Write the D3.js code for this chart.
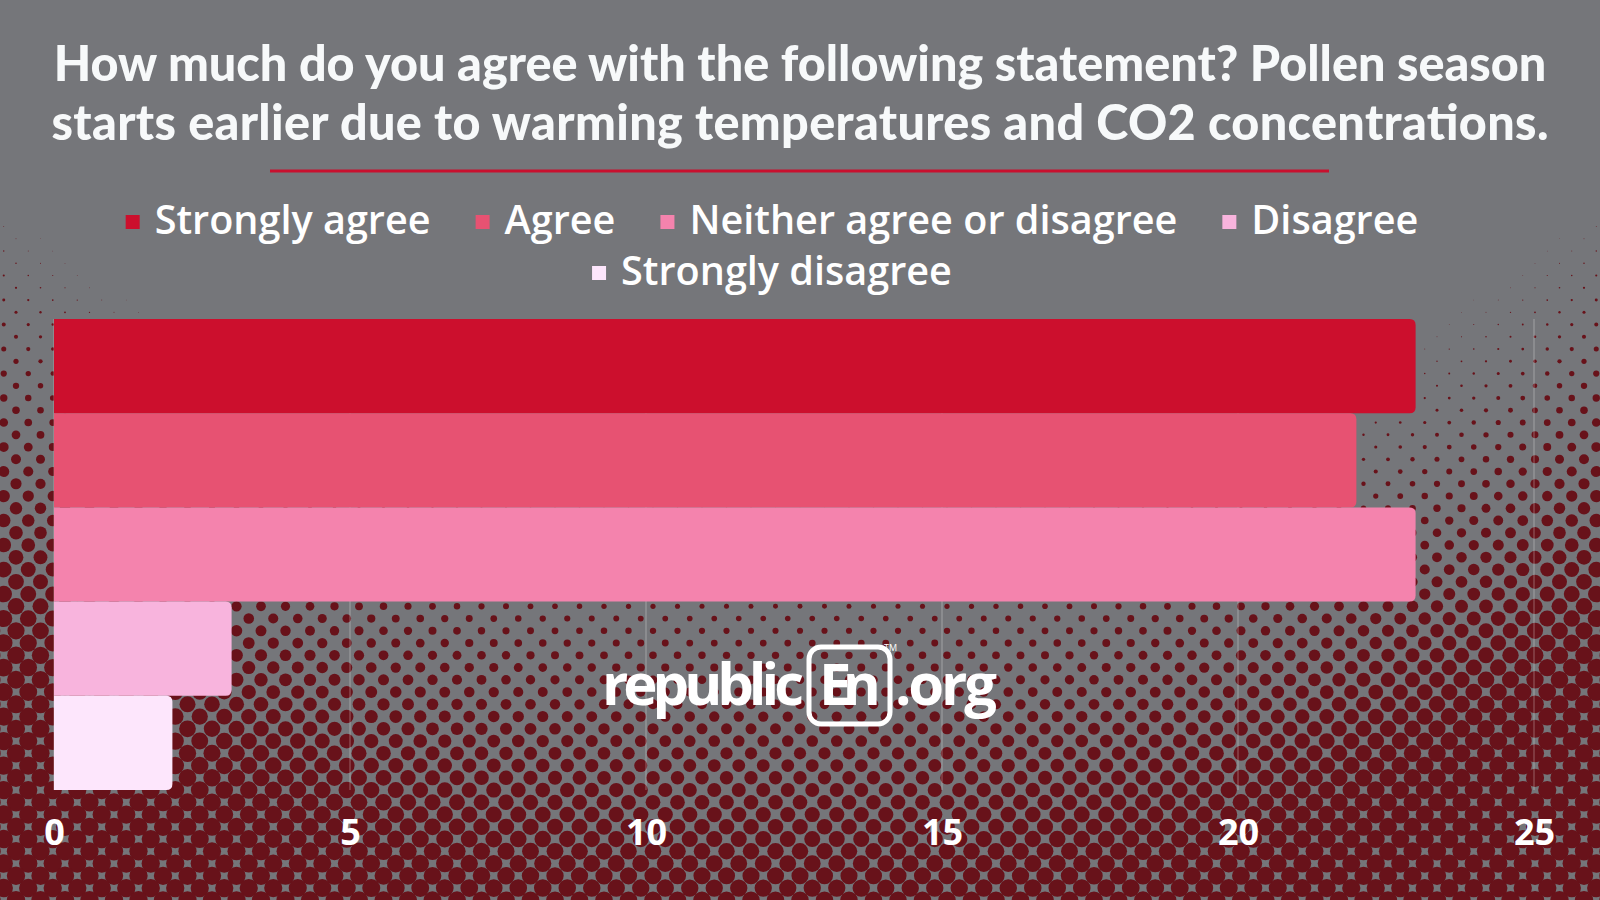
<!DOCTYPE html>
<html><head><meta charset="utf-8">
<script src="https://cdn.jsdelivr.net/npm/d3@7"></script>
<style>html,body{margin:0;padding:0;background:#75767a;overflow:hidden}</style>
</head><body>
<svg id="chart" width="1600" height="900"></svg>
<script>
// ---- data ----
const titleLines = [
  "How much do you agree with the following statement? Pollen season",
  "starts earlier due to warming temperatures and CO2 concentrations."
];
const categories = ["Strongly agree", "Agree", "Neither agree or disagree", "Disagree", "Strongly disagree"];
const values = [23, 22, 23, 3, 2];
const colors = ["#cc0f2d", "#e75272", "#f483ad", "#f8b4dd", "#fde6fc"];
const tickValues = [0, 5, 10, 15, 20, 25];
const legendRows = [[0, 1, 2, 3], [4]];

// ---- setup ----
const W = 1600, H = 900;
const BG = "#75767a", DOT = "#68121a";
const svg = d3.select("#chart");
svg.append("rect").attr("width", W).attr("height", H).attr("fill", BG);

// ---- halftone background ----
const P = 24.5, R = P / 2;
function dotRadius(x, y) {
  const dx = Math.abs(x - 800);
  const y0 = 510 - 1.447e-5 * Math.pow(dx, 2.5);
  const u = y - y0;
  let r = Math.log1p(Math.exp(u / 40));
  if (r > 6.5) r = 6.5 + 2.7 * Math.tanh((r - 6.5) / 2.7);
  return r;
}
const dots = [];
for (let j = -30; j < 60; j++) {
  const y = 312.3 + R * j;
  if (y < -15 || y > H + 15) continue;
  const off = (Math.abs(j) % 2 === 1) ? R : 0;
  for (let x = 16 + off - P; x < W + P; x += P) {
    const r = dotRadius(x, y);
    if (r > 0.3) dots.push({x, y, r});
  }
}
svg.append("g").selectAll("circle").data(dots).join("circle")
  .attr("cx", d => d.x).attr("cy", d => d.y).attr("r", d => d.r).attr("fill", DOT);

// ---- scales ----
const x = d3.scaleLinear().domain([0, 25]).range([54, 1534]);
const y = d3.scaleBand().domain(categories).range([319, 790]).padding(0);

// ---- gridlines ----
svg.append("g").selectAll("line").data(tickValues).join("line")
  .attr("x1", d => x(d)).attr("x2", d => x(d))
  .attr("y1", y.range()[0]).attr("y2", y.range()[1])
  .attr("stroke", "rgba(255,255,255,0.22)").attr("stroke-width", 1.5);

// ---- bars ----
function barPath(x0, y0, w, h, r) {
  r = Math.min(r, w / 2, h / 2);
  return `M${x0},${y0}H${x0 + w - r}Q${x0 + w},${y0} ${x0 + w},${y0 + r}V${y0 + h - r}Q${x0 + w},${y0 + h} ${x0 + w - r},${y0 + h}H${x0}Z`;
}
svg.append("g").selectAll("path").data(categories).join("path")
  .attr("d", (c, i) => barPath(x(0), y(c), x(values[i]) - x(0), y.bandwidth(), 6))
  .attr("fill", (c, i) => colors[i]);

// ---- x axis labels ----
const axis = d3.axisBottom(x).tickValues(tickValues).tickSize(0).tickPadding(0).tickFormat(d3.format("d"));
const ag = svg.append("g").attr("transform", "translate(0,845)").call(axis);
ag.select(".domain").remove();
ag.selectAll("text").attr("dy", 0).attr("y", 0)
  .attr("fill", "#ffffff").attr("font-family", "'Open Sans', sans-serif")
  .attr("font-weight", 700).attr("font-size", 36);

// ---- title ----
const tg = svg.append("g");
const tTexts = tg.selectAll("text").data(titleLines).join("text")
  .attr("x", 800).attr("y", (d, i) => [81, 140][i])
  .attr("text-anchor", "middle").attr("fill", "#f7f9fa")
  .attr("font-family", "Lato, sans-serif").attr("font-weight", 900)
  .attr("font-size", 48).text(d => d);
const l1 = tTexts.nodes()[0].getComputedTextLength();
const tSize = 48 * 1493 / l1;
tTexts.attr("font-size", tSize);
tTexts.each(function(d, i) {
  const target = [1493, 1497][i];
  const len = this.getComputedTextLength();
  if (Math.abs(len - target) > 4) d3.select(this).attr("textLength", target).attr("lengthAdjust", "spacing");
});
svg.append("line").attr("x1", 270).attr("x2", 1329).attr("y1", 171).attr("y2", 171)
  .attr("stroke", "#c8102e").attr("stroke-width", 3);

// ---- legend ----
const lg = svg.append("g");
const LF = "'Open Sans', sans-serif";
const probe = lg.append("text").attr("font-family", LF).attr("font-weight", 600)
  .attr("font-size", 36).text(categories[2]);
const lSize = 36 * 488 / probe.node().getComputedTextLength();
const widths = categories.map(c => { probe.attr("font-size", lSize).text(c); return probe.node().getComputedTextLength(); });
probe.remove();
const rowBase = [234, 285];
legendRows.forEach((row, ri) => {
  const total = d3.sum(row, i => 29 + widths[i]) + 45 * (row.length - 1);
  let cx = 772 - total / 2;
  row.forEach(i => {
    lg.append("rect").attr("x", cx).attr("y", rowBase[ri] - 12 - 7).attr("width", 14).attr("height", 14)
      .attr("fill", colors[i]);
    lg.append("text").attr("font-family", LF).attr("font-weight", 600)
      .attr("font-size", lSize).attr("fill", "#ffffff")
      .attr("x", cx + 29).attr("y", rowBase[ri]).text(categories[i]);
    cx += 29 + widths[i] + 45;
  });
});

// ---- logo ----
const logo = svg.append("g");
logo.append("rect").attr("x", 809).attr("y", 647).attr("width", 81).attr("height", 77).attr("rx", 12)
  .attr("fill", "none").attr("stroke", "#ffffff").attr("stroke-width", 5);
function fitText(str, xPos, yPos, size, visible) {
  const t = logo.append("text").attr("fill", "#ffffff").attr("font-family", "'Open Sans', sans-serif")
    .attr("font-weight", 700).attr("font-size", size).attr("x", xPos).attr("y", yPos).text(str);
  const nat = t.node().getComputedTextLength();
  t.attr("letter-spacing", (visible - nat) / (str.length - 1));
  return t;
}
fitText("republic", 602, 705, 58, 202);
fitText("En", 819, 705, 58, 62);
fitText(".org", 895, 705, 58, 102);
logo.append("text").attr("fill", "#ffffff").attr("font-family", "'Open Sans', sans-serif")
  .attr("font-size", 9).attr("x", 884).attr("y", 651).text("TM");
</script>
</body></html>
